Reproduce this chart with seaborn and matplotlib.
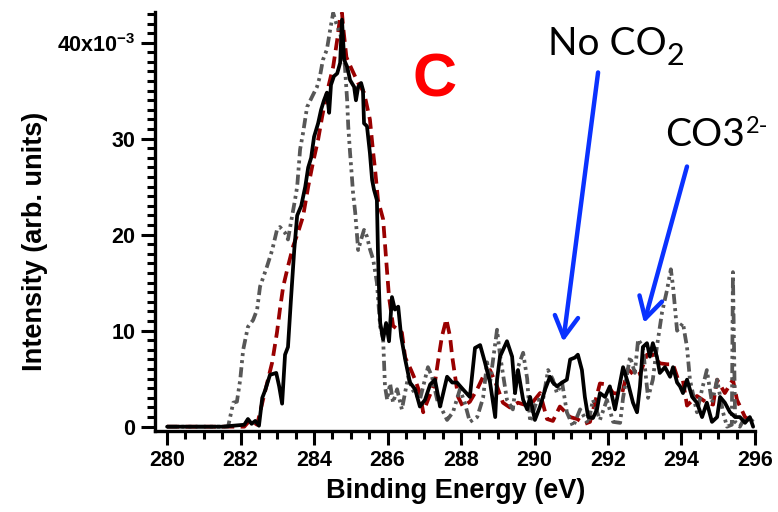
import numpy as np
import pandas as pd
import matplotlib
matplotlib.use("Agg")
import matplotlib.pyplot as plt
import seaborn as sns
from matplotlib.ticker import MultipleLocator

# C 1s spectra: binding energy (eV) / intensity (x10^-3)
energy_black = [280.00, 281.50, 282.10, 282.20, 282.30, 282.40, 282.50, 282.59, 282.67, 282.80,
                282.97, 283.05, 283.13, 283.21, 283.29, 283.37, 283.46, 283.54, 283.65, 283.76,
                283.84, 283.92, 284.00, 284.11, 284.19, 284.27, 284.35, 284.41, 284.46, 284.54,
                284.63, 284.71, 284.76, 284.82, 284.90, 284.98, 285.09, 285.14, 285.20, 285.28,
                285.33, 285.36, 285.44, 285.52, 285.58, 285.63, 285.71, 285.74, 285.77, 285.80,
                285.88, 285.96, 286.04, 286.12, 286.20, 286.29, 286.37, 286.48, 286.61, 286.75,
                286.88, 287.02, 287.16, 287.29, 287.43, 287.62, 287.76, 287.89, 288.05, 288.24,
                288.38, 288.52, 288.65, 288.79, 288.93, 288.98, 289.06, 289.25, 289.39, 289.47,
                289.55, 289.69, 289.80, 289.88, 290.01, 290.15, 290.29, 290.42, 290.50, 290.61,
                290.75, 290.88, 290.97, 291.10, 291.18, 291.29, 291.37, 291.46, 291.59, 291.70,
                291.78, 291.92, 292.05, 292.19, 292.33, 292.41, 292.54, 292.68, 292.79, 292.87,
                292.95, 293.06, 293.14, 293.22, 293.33, 293.41, 293.55, 293.69, 293.77, 293.88,
                293.96, 294.04, 294.15, 294.29, 294.42, 294.56, 294.69, 294.83, 294.97, 295.05,
                295.18, 295.32, 295.46, 295.59, 295.73, 295.86, 295.95]
intensity_black = [0, 0, 0.2, 0.8, 0.3, 0.6, 0.1, 3.0, 3.8, 5.4,
                   5.6, 4.2, 2.4, 7.5, 8.3, 13.2, 18.4, 22.0, 23.0, 25.0,
                   27.0, 28.0, 30.2, 31.6, 33.0, 34.0, 34.8, 32.7, 35.6, 36.5,
                   36.8, 37.9, 42.4, 38.2, 37.5, 36.1, 35.4, 34.0, 35.4, 35.8,
                   35.1, 31.6, 31.3, 28.5, 25.7, 24.7, 23.6, 18.0, 14.0, 10.8,
                   9.1, 10.8, 8.9, 13.5, 12.2, 12.5, 9.4, 7.0, 4.6, 3.9,
                   2.1, 2.8, 4.4, 4.9, 2.1, 5.2, 4.6, 4.6, 3.9, 3.1,
                   8.2, 8.5, 6.7, 4.6, 1.0, 4.9, 7.3, 8.9, 7.3, 3.5,
                   5.9, 2.8, 1.8, 3.1, 0.7, 2.1, 3.9, 5.2, 4.6, 4.2,
                   4.6, 4.9, 7.0, 7.2, 7.5, 5.9, 3.1, 1.0, 0.9, 1.8,
                   3.5, 3.1, 4.2, 1.8, 4.6, 6.2, 4.6, 2.5, 1.5, 4.2,
                   8.3, 8.7, 7.3, 8.7, 7.3, 5.6, 6.2, 5.2, 6.2, 4.6,
                   4.2, 3.5, 4.9, 3.1, 2.5, 1.0, 2.5, 0.5, 1.0, 3.1,
                   2.5, 1.5, 1.0, 1.0, 0.4, 1.0, 0.0]

energy_red = [280.00, 282.10, 282.26, 282.34, 282.45, 282.61, 282.86, 282.99, 283.07, 283.16,
              283.29, 283.43, 283.56, 283.70, 283.84, 283.97, 284.11, 284.22, 284.35, 284.52,
              284.63, 284.71, 284.76, 284.79, 284.88, 285.03, 285.20, 285.36, 285.52, 285.61,
              285.66, 285.74, 285.88, 285.96, 286.04, 286.15, 286.39, 286.48, 286.64, 286.75,
              286.88, 286.97, 287.10, 287.29, 287.37, 287.48, 287.60, 287.70, 287.76, 287.84,
              287.92, 288.05, 288.24, 288.44, 288.60, 288.79, 288.98, 289.14, 289.33, 289.55,
              289.80, 289.96, 290.15, 290.34, 290.50, 290.69, 290.97, 291.16, 291.37, 291.51,
              291.78, 291.97, 292.14, 292.38, 292.54, 292.73, 292.87, 293.06, 293.22, 293.41,
              293.61, 293.77, 293.90, 294.04, 294.15, 294.42, 294.69, 294.86, 294.97, 295.18,
              295.40, 295.51, 295.73, 295.95]
intensity_red = [0, 0, 0.7, 0.5, 0.2, 2.8, 6.7, 9.8, 12.2, 14.6,
                 16.7, 18.8, 20.2, 21.9, 25.0, 27.5, 29.9, 32.3, 34.8, 37.5,
                 40.3, 42.7, 43.1, 41.7, 38.5, 37.2, 35.8, 34.8, 32.0, 28.5,
                 26.8, 23.6, 21.6, 17.5, 13.5, 10.5, 9.8, 7.2, 5.9, 4.9,
                 3.5, 1.5, 2.8, 4.6, 6.7, 9.4, 11.2, 9.4, 7.3, 5.2,
                 3.1, 2.1, 2.6, 3.9, 5.2, 5.9, 4.2, 2.5, 2.0, 2.5,
                 2.2, 2.6, 3.5, 0.8, 0.6, 2.1, 1.0, 0.8, 0.3, 0.5,
                 4.5, 4.4, 3.5, 3.4, 6.0, 5.3, 5.5, 7.5, 7.5, 6.6,
                 6.5, 6.5, 5.0, 4.8, 2.2, 3.2, 2.5, 2.3, 4.9, 3.5,
                 4.9, 2.8, 1.0, 0.5]

energy_gray = [280.00, 281.66, 281.80, 281.90, 281.99, 282.07, 282.20, 282.34, 282.45, 282.53,
               282.72, 282.86, 282.99, 283.07, 283.21, 283.29, 283.40, 283.48, 283.54, 283.62,
               283.70, 283.81, 283.95, 284.08, 284.16, 284.24, 284.35, 284.44, 284.52, 284.63,
               284.71, 284.79, 284.84, 284.90, 284.93, 284.98, 285.03, 285.06, 285.12, 285.20,
               285.28, 285.36, 285.44, 285.52, 285.61, 285.71, 285.80, 285.88, 285.93, 285.99,
               286.07, 286.15, 286.26, 286.39, 286.56, 286.67, 286.88, 287.10, 287.21, 287.35,
               287.48, 287.62, 287.78, 287.97, 288.10, 288.24, 288.44, 288.60, 288.71, 288.79,
               288.98, 289.06, 289.25, 289.41, 289.55, 289.69, 289.80, 289.88, 290.07, 290.23,
               290.37, 290.50, 290.61, 290.75, 290.88, 291.05, 291.24, 291.46, 291.59, 291.78,
               291.97, 292.14, 292.33, 292.41, 292.60, 292.73, 292.82, 292.95, 293.01, 293.09,
               293.22, 293.33, 293.47, 293.61, 293.71, 293.77, 293.88, 294.04, 294.10, 294.15,
               294.23, 294.42, 294.56, 294.69, 294.83, 294.97, 295.13, 295.24, 295.37, 295.40,
               295.46, 295.59, 295.73, 295.86, 295.95]
intensity_gray = [0, 0, 2.5, 2.6, 4.9, 8.0, 10.4, 11.1, 12.2, 14.6,
                  16.7, 18.4, 20.5, 20.8, 20.2, 19.5, 21.9, 23.6, 25.0, 28.9,
                  30.6, 33.3, 34.4, 35.4, 36.5, 38.2, 39.3, 41.4, 43.1, 41.7,
                  41.0, 39.3, 37.5, 34.0, 31.3, 28.5, 26.0, 24.4, 22.3, 18.4,
                  19.5, 20.5, 19.8, 18.5, 17.4, 15.0, 10.4, 9.1, 4.2, 2.8,
                  4.5, 2.5, 3.9, 1.8, 5.2, 3.9, 2.8, 6.2, 5.2, 2.8,
                  1.8, 0.7, 1.5, 3.9, 2.5, 0.5, 1.0, 3.0, 6.7, 4.6,
                  10.1, 7.5, 2.8, 1.8, 6.2, 7.7, 5.0, 0.5, 2.8, 2.8,
                  5.9, 4.9, 3.5, 4.6, 1.5, 0.0, 1.8, 0.3, 2.8, 0.7,
                  2.8, 0.5, 0.4, 3.0, 7.3, 5.6, 9.1, 8.3, 6.0, 3.0,
                  4.9, 8.3, 11.9, 14.3, 16.4, 14.6, 10.0, 10.8, 9.4, 8.3,
                  4.9, 1.5, 3.9, 5.9, 2.5, 4.9, 1.5, 0.0, 0.2, 16.1,
                  0.5, 0.0, 1.0, 0.4, 0.8]

y_ticks = [0, 10, 20, 30, 40]
y_ticklabels = ["0", "10", "20", "30", r"40x10$^{\mathbf{-3}}$"]
x_ticks = [280, 282, 284, 286, 288, 290, 292, 294, 296]

sns.set_style("ticks")
plt.rcParams["font.family"] = ["Liberation Sans", "DejaVu Sans"]
plt.rcParams["mathtext.fontset"] = "custom"
plt.rcParams["mathtext.rm"] = "Liberation Sans"
plt.rcParams["mathtext.bf"] = "Liberation Sans:bold"
plt.rcParams["mathtext.it"] = "Liberation Sans:italic"
for key in ["text.color", "axes.labelcolor", "xtick.color", "ytick.color", "axes.edgecolor"]:
    plt.rcParams[key] = "black"

fig = plt.figure(figsize=(7.78, 5.12), dpi=100)
ax = fig.add_axes([0.1992, 0.1582, 0.7712, 0.8184])

lw = 2.7
series = [
    (energy_red, intensity_red, "#990000", (0, (3.2, 1.7))),
    (energy_gray, intensity_gray, "#575757", (0, (2.7, 1.1, 0.8, 1.1, 0.8, 1.1))),
    (energy_black, intensity_black, "black", "-"),
]
for energy, intensity, color, ls in series:
    df = pd.DataFrame({"energy": energy, "intensity": np.array(intensity) * 1e-3})
    sns.lineplot(data=df, x="energy", y="intensity", ax=ax, color=color,
                 lw=lw, sort=False, estimator=None)
    ax.lines[-1].set_linestyle(ls)

ax.set_xlim(279.67, 296.0)
ax.set_ylim(-0.45e-3, 43.2e-3)
sns.despine(ax=ax)
for side in ["left", "bottom"]:
    ax.spines[side].set_linewidth(2.4)

ax.set_xticks(x_ticks)
ax.set_xticklabels([str(v) for v in x_ticks])
ax.set_yticks([v * 1e-3 for v in y_ticks])
ax.set_yticklabels(y_ticklabels)
ax.get_yticklabels()[-1].set_fontsize(12)
ax.xaxis.set_minor_locator(MultipleLocator(0.5))
ax.yaxis.set_minor_locator(MultipleLocator(1e-3))
ax.tick_params(which="major", direction="out", length=10, width=2.2, labelsize=15.5, pad=4)
ax.tick_params(which="minor", direction="out", length=5.5, width=2.2)
for lab in ax.get_xticklabels() + ax.get_yticklabels():
    lab.set_fontweight("bold")

ax.set_xlabel("Binding Energy (eV)", fontsize=19.5, fontweight="bold")
ax.set_ylabel("Intensity (arb. units)", fontsize=19.5, fontweight="bold")
ax.xaxis.set_label_coords(0.502, -0.112)
ax.yaxis.set_label_coords(-0.178, 0.453)

# panel letter and annotations
ax.text(287.27, 34.4e-3, "C", color="#ff0000", fontsize=44, fontweight="bold",
        ha="center", va="baseline")

blue = "#0a32ff"
t1 = ax.text(290.37, 38.75e-3, "No CO", fontsize=28, family="Lato",
             ha="left", va="baseline")
ax.annotate("2", xy=(1, 37.7e-3), xycoords=(t1, "data"), xytext=(-0.5, 0),
            textcoords="offset points", fontsize=22, family="Lato",
            ha="left", va="baseline", annotation_clip=False)
t2 = ax.text(293.55, 29.2e-3, "CO3", fontsize=28, family="Lato",
             ha="left", va="baseline")
ax.annotate("2-", xy=(1, 30.6e-3), xycoords=(t2, "data"), xytext=(0.5, 0),
            textcoords="offset points", fontsize=17, family="Lato",
            ha="left", va="baseline", annotation_clip=False)

arrow_kw = dict(arrowstyle="->,head_length=0.75,head_width=0.42", color=blue,
                lw=3.2, mutation_scale=20, shrinkA=0, shrinkB=0)
ax.annotate("", xy=(290.78, 8.85e-3), xytext=(291.73, 36.9e-3), arrowprops=arrow_kw)
ax.annotate("", xy=(292.98, 10.8e-3), xytext=(294.15, 27.1e-3), arrowprops=arrow_kw)

fig.savefig("out.png", dpi=100)
